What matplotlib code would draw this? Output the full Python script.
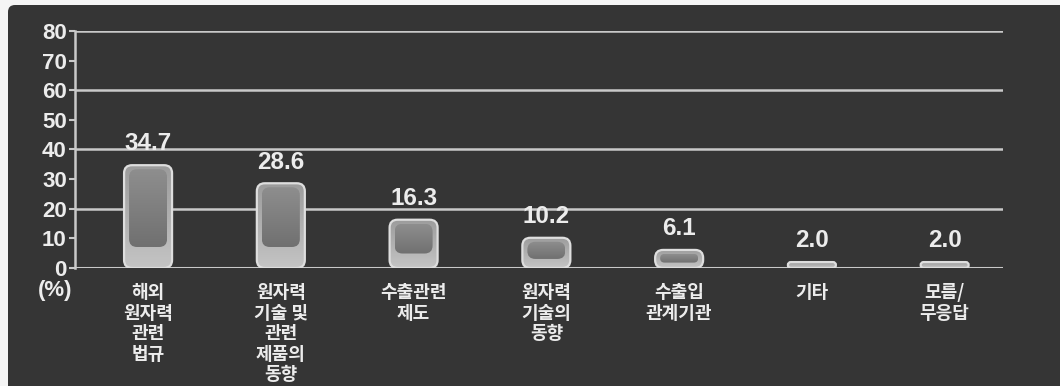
import numpy as np
import matplotlib
matplotlib.use('Agg')
import matplotlib.pyplot as plt
from matplotlib.patches import FancyBboxPatch
from matplotlib.transforms import IdentityTransform

plt.rcParams['font.family'] = ['Noto Sans CJK KR', 'DejaVu Sans']

# data
categories = ['해외\n원자력\n관련\n법규', '원자력\n기술 및\n관련\n제품의\n동향', '수출관련\n제도',
              '원자력\n기술의\n동향', '수출입\n관계기관', '기타', '모름/\n무응답']
values = [34.7, 28.6, 16.3, 10.2, 6.1, 2.0, 2.0]
yticks = [0, 10, 20, 30, 40, 50, 60, 70, 80]
grid_at = [20, 40, 60, 80]

panel_col = '#353535'
line_col = '#c9c9c9'
text_col = '#ececec'
num_font = ['Liberation Sans', 'DejaVu Sans']

fig = plt.figure(figsize=(10.6, 3.86), dpi=100)
fig.patch.set_facecolor('#f5f5f5')

# dark rounded panel behind everything
panel = FancyBboxPatch((8, -20), 1090, 401, boxstyle='round,pad=0,rounding_size=7',
                       transform=IdentityTransform(), facecolor=panel_col, edgecolor='none', zorder=-5)
fig.patches.append(panel)

ax = fig.add_axes([0.0708, 0.3057, 0.8755, 0.614])
ax.set_zorder(2)
ax.set_facecolor('none')
xmin, xmax = -0.55, 6.44
ax.set_xlim(xmin, xmax)
ax.set_ylim(0, 80)

for s in ['top', 'right', 'bottom']:
    ax.spines[s].set_visible(False)
ax.spines['left'].set_color(line_col)
ax.spines['left'].set_linewidth(1.8)

for g in grid_at:
    ax.axhline(g, color=line_col, lw=1.8, zorder=1)
ax.axhline(0, color=line_col, lw=2.2, zorder=1)

ax.set_yticks(yticks)
ax.set_yticklabels([str(t) for t in yticks], family=num_font, fontweight='bold',
                   fontsize=16, color=text_col)
ax.tick_params(axis='y', length=4, width=1.5, color=line_col, pad=2)

x = np.arange(len(categories))
ax.set_xticks(x)
ax.set_xticklabels(categories, fontsize=13, fontweight='bold', color=text_col, linespacing=1.1, va='top')
ax.tick_params(axis='x', length=0, pad=11)

ax.text(-0.70, -4.0, '(%)', ha='center', va='top', fontsize=16, fontweight='bold',
        color=text_col, family=num_font, clip_on=False)

# pixel sizes converted to data units
fig.canvas.draw()
bb = ax.get_window_extent()
px_x = bb.width / (xmax - xmin)
px_y = bb.height / 80.0
aspect = px_x / px_y

bar_w = 48 / px_x
rad = 8 / px_x


def round_box(x0, y0, w, h, **kw):
    r = min(rad, w / 2, h / aspect / 2)
    p = FancyBboxPatch((x0, y0), w, h, boxstyle=f'round,pad=0,rounding_size={r}',
                       mutation_aspect=aspect, **kw)
    ax.add_patch(p)
    return p


def gradient(patch, x0, w, y0, h, c_bot, c_top, z):
    c_bot = np.array(matplotlib.colors.to_rgb(c_bot))
    c_top = np.array(matplotlib.colors.to_rgb(c_top))
    t = np.linspace(0, 1, 64)[:, None]
    img = (c_bot * (1 - t) + c_top * t)[:, None, :]
    im = ax.imshow(img, extent=[x0, x0 + w, y0, y0 + h], origin='lower', aspect='auto',
                   interpolation='bilinear', zorder=z)
    im.set_clip_path(patch)


for xi, v in zip(x, values):
    x0 = xi - bar_w / 2
    outer = round_box(x0, 0, bar_w, v, facecolor='none', edgecolor='#dedede', lw=1.6, zorder=4)
    gradient(outer, x0, bar_w, 0, v, '#c4c4c4', '#9c9c9c', 2)

    # darker inner block in the upper part of each bar
    inset_x = 5 / px_x
    top_gap = 4 / px_y
    bottom = min(21 / px_y, 0.3 * v)
    ih = v - top_gap - bottom
    if ih > 0.5 / px_y:
        inner = round_box(x0 + inset_x, bottom, bar_w - 2 * inset_x, ih,
                          facecolor='none', edgecolor='none', zorder=3)
        gradient(inner, x0 + inset_x, bar_w - 2 * inset_x, bottom, ih, '#707070', '#8e8e8e', 3)

    ax.annotate(f'{v:.1f}', (xi, v), xytext=(0, 7), textcoords='offset points',
                ha='center', va='bottom', fontsize=17.5, fontweight='bold',
                color=text_col, family=num_font)

ax.set_xlim(xmin, xmax)
ax.set_ylim(0, 80)
fig.savefig('out.png', dpi=100, facecolor=fig.get_facecolor())
